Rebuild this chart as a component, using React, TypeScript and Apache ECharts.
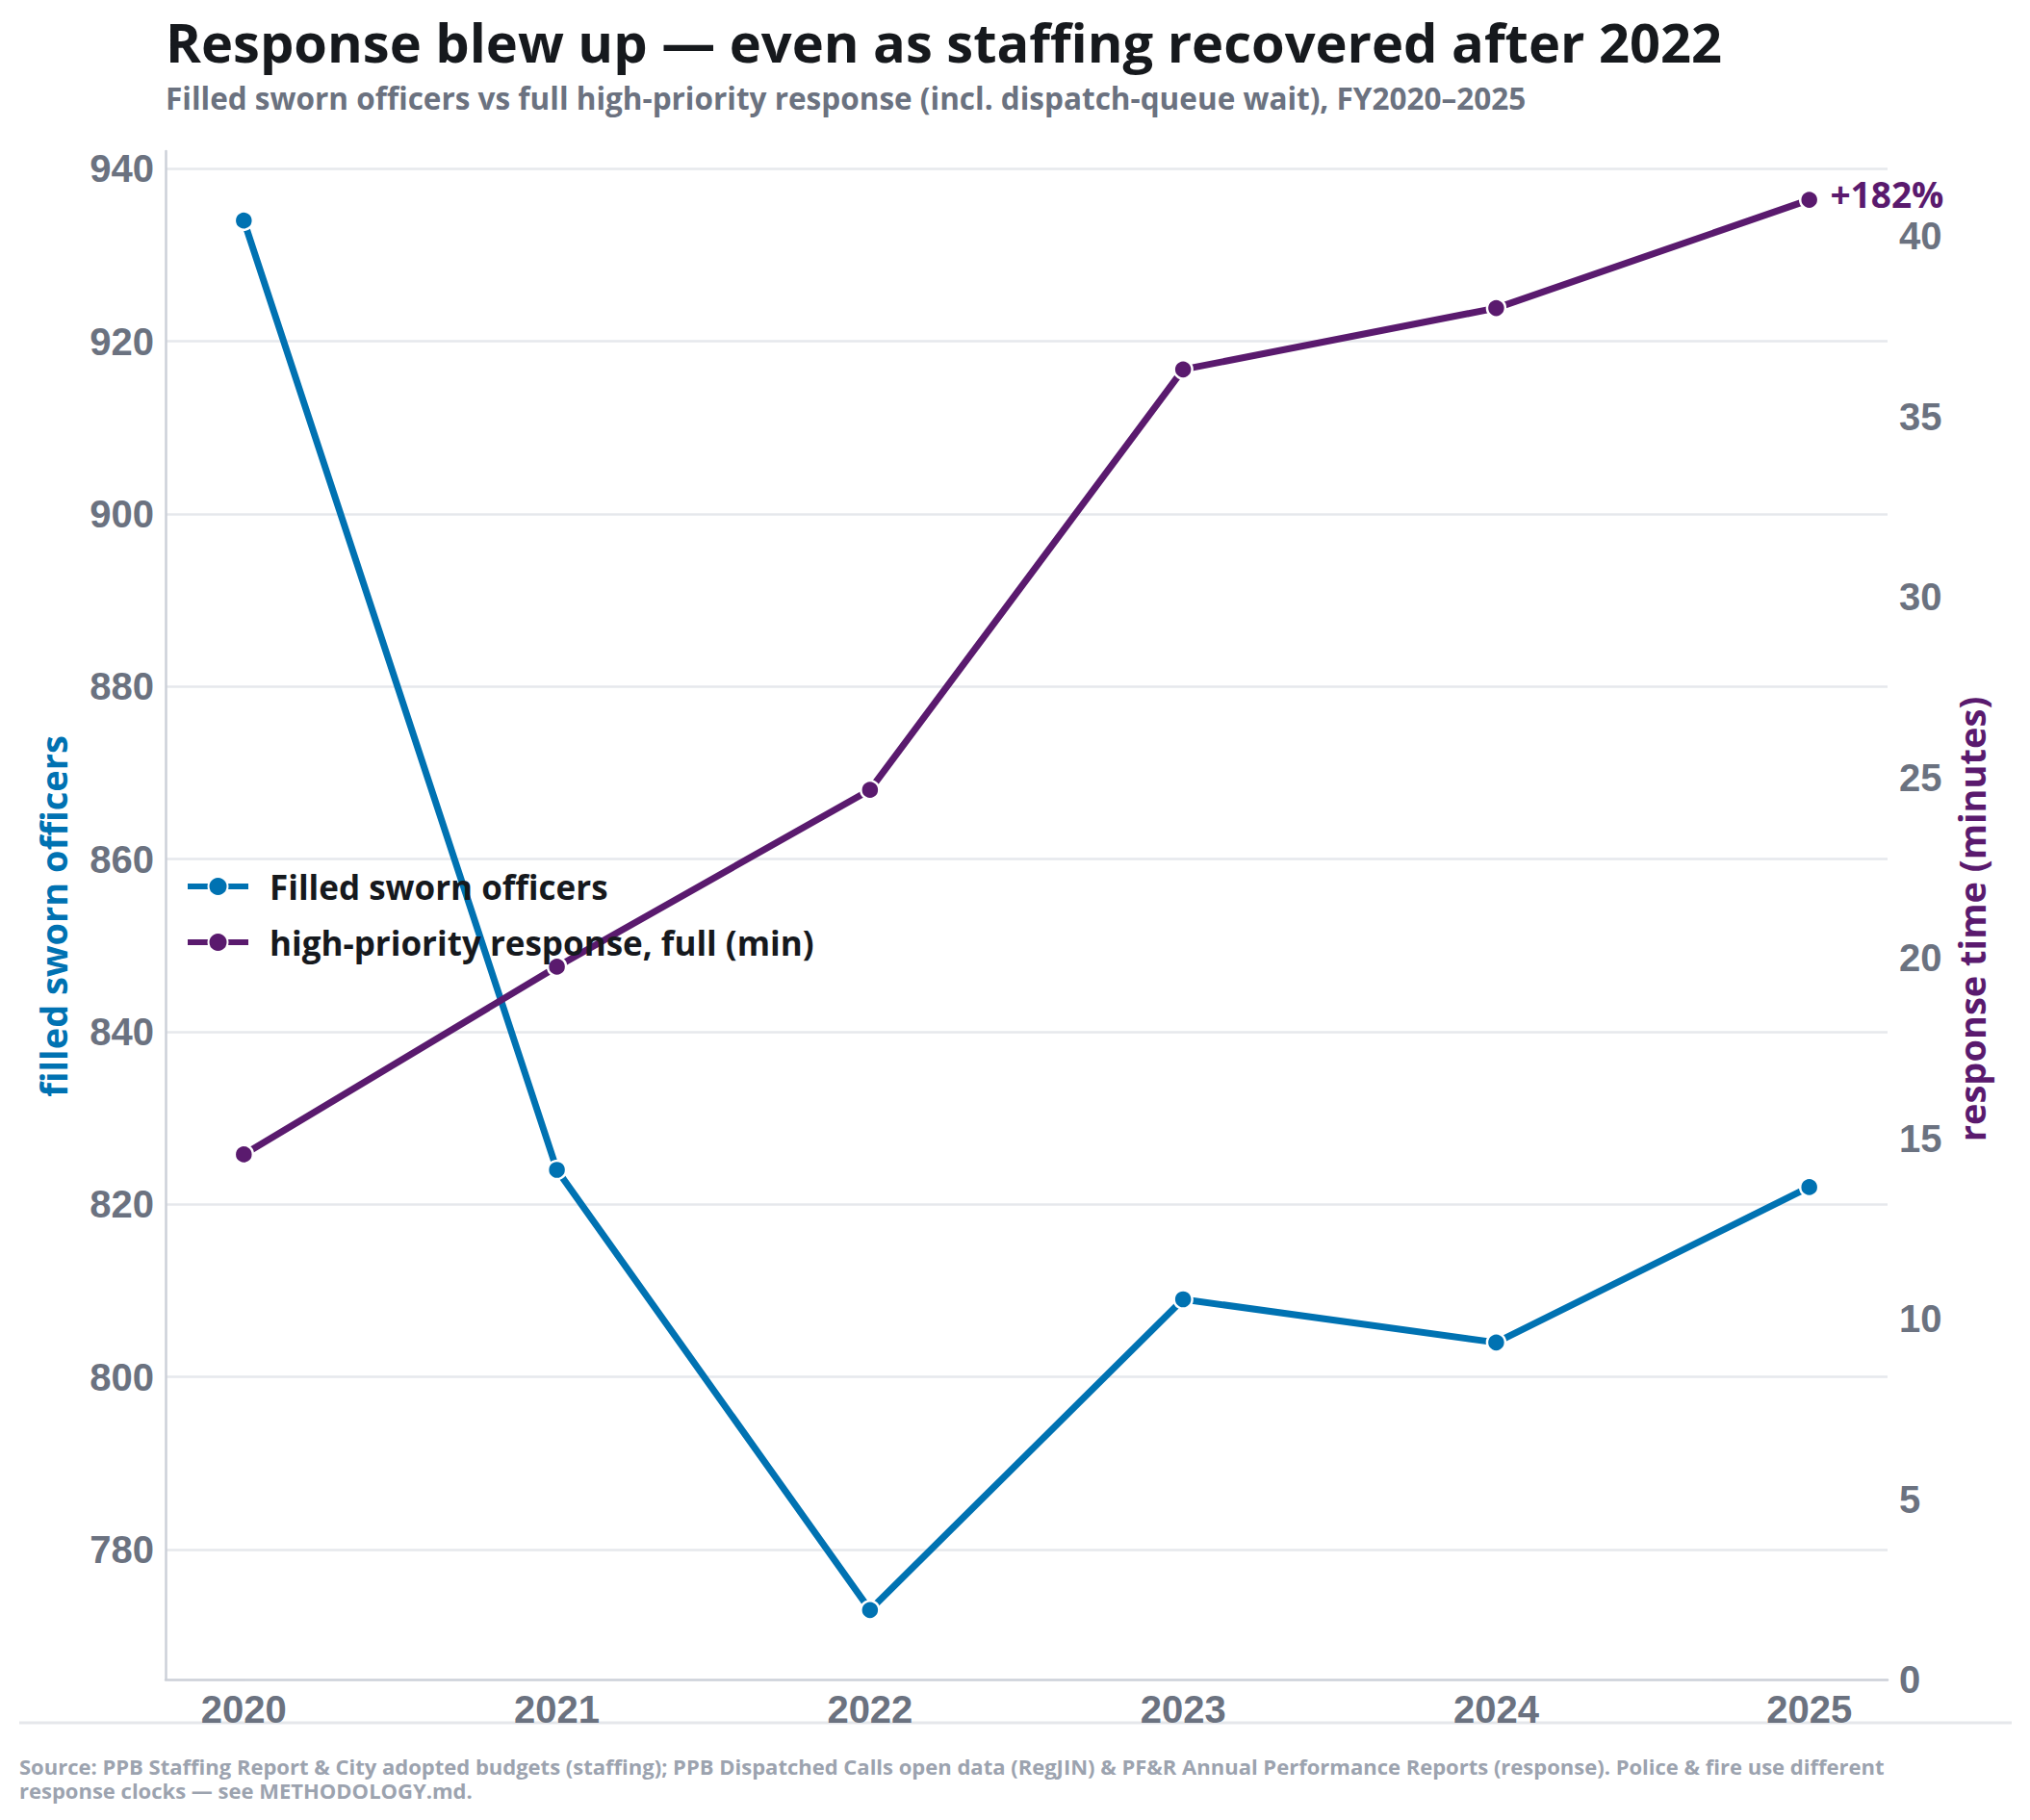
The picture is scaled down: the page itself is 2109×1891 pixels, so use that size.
import React, { useEffect, useRef } from "react";
import * as echarts from "echarts";

const years = [2020, 2021, 2022, 2023, 2024, 2025];
const officers = [934, 824, 773, 809, 804, 822];
const responseMinutes = [14.55, 19.75, 24.65, 36.3, 38.0, 41.0];
const changeLabel = "+182%";

const titleText = "Response blew up — even as staffing recovered after 2022";
const subtitleText =
  "Filled sworn officers vs full high-priority response (incl. dispatch-queue wait), FY2020–2025";
const sourceLines = [
  "Source: PPB Staffing Report & City adopted budgets (staffing); PPB Dispatched Calls open data (RegJIN) & PF&R Annual Performance Reports (response). Police & fire use different",
  "response clocks — see METHODOLOGY.md.",
];
const seriesNames = ["Filled sworn officers", "high-priority response, full (min)"];
const leftAxisName = "filled sworn officers";
const rightAxisName = "response time (minutes)";

const BLUE = "#0072b2";
const PURPLE = "#5a1a6e";
const TICK = "#6b7280";
const DARK = "#16191d";
const FONT = "'Open Sans', Lato, 'Noto Sans', sans-serif";
const NUMFONT = "'Liberation Sans', Arial, sans-serif";

export default function App() {
  const ref = useRef<HTMLDivElement>(null);
  useEffect(() => {
    document.body.style.margin = "0";
    if (!ref.current) return;
    const chart = echarts.init(ref.current, null, { renderer: "svg" });
    const tickLabel = {
      color: TICK,
      fontFamily: NUMFONT,
      fontWeight: "bold" as const,
      fontSize: 40,
      margin: 12,
    };
    const option: any = {
      animation: false,
      backgroundColor: "#ffffff",
      grid: { left: 172, right: 148, top: 157, bottom: 146, containLabel: false },
      xAxis: {
        type: "value",
        min: 2019.75,
        max: 2025.25,
        axisLine: { show: true, onZero: false, lineStyle: { color: "#ccd0d8", width: 2.5 } },
        axisTick: { show: false },
        splitLine: { show: false },
        axisLabel: {
          ...tickLabel,
          margin: 11,
          customValues: years,
          formatter: (v: number) => String(v),
        },
      },
      yAxis: [
        {
          type: "value",
          position: "left",
          min: 764.95,
          max: 942.05,
          splitNumber: 9,
          axisLine: { show: true, onZero: false, lineStyle: { color: "#ccd0d8", width: 2.5 } },
          axisTick: { show: false },
          axisLabel: { ...tickLabel, showMinLabel: false, showMaxLabel: false },
          splitLine: {
            show: true,
            showMinLine: false,
            showMaxLine: false,
            lineStyle: { color: "#e6e8ec", width: 2.5 },
          },
        },
        {
          type: "value",
          position: "right",
          min: 0,
          max: 42.35,
          interval: 5,
          axisLine: { show: false, onZero: false },
          axisTick: { show: false },
          splitLine: { show: false },
          axisLabel: { ...tickLabel, showMaxLabel: false },
        },
      ],
      legend: {
        left: 192,
        top: 900,
        padding: 0,
        orient: "vertical",
        itemWidth: 63,
        itemHeight: 25,
        itemGap: 16,
        data: seriesNames,
        lineStyle: { width: 6 },
        textStyle: {
          fontFamily: FONT,
          fontWeight: "bold",
          fontSize: 35,
          lineHeight: 42,
          color: DARK,
          padding: [0, 0, 0, 17],
        },
      },
      series: [
        {
          type: "line",
          name: seriesNames[0],
          yAxisIndex: 0,
          data: years.map((y, i) => [y, officers[i]]),
          symbol: "circle",
          symbolSize: 19,
          lineStyle: { color: BLUE, width: 7 },
          itemStyle: { color: BLUE, borderColor: "#ffffff", borderWidth: 2.5 },
          z: 2,
        },
        {
          type: "line",
          name: seriesNames[1],
          yAxisIndex: 1,
          data: years.map((y, i) =>
            i === years.length - 1
              ? {
                  value: [y, responseMinutes[i]],
                  label: {
                    show: true,
                    position: "right",
                    distance: 11,
                    offset: [0, -6],
                    formatter: changeLabel,
                    fontFamily: FONT,
                    fontWeight: "bold",
                    fontSize: 37,
                    lineHeight: 36,
                    color: PURPLE,
                  },
                }
              : [y, responseMinutes[i]]
          ),
          symbol: "circle",
          symbolSize: 19,
          lineStyle: { color: PURPLE, width: 7 },
          itemStyle: { color: PURPLE, borderColor: "#ffffff", borderWidth: 2.5 },
          z: 3,
        },
      ],
      graphic: [
        {
          type: "text",
          x: 172,
          y: 43,
          style: {
            text: titleText,
            font: `bold 56px ${FONT}`,
            lineHeight: 56,
            fill: DARK,
            verticalAlign: "middle",
          },
        },
        {
          type: "text",
          x: 172,
          y: 101,
          style: {
            text: subtitleText,
            font: `bold 31.5px ${FONT}`,
            lineHeight: 32,
            fill: TICK,
            verticalAlign: "middle",
          },
        },
        {
          type: "text",
          x: 55,
          y: 952,
          rotation: Math.PI / 2,
          style: {
            text: leftAxisName,
            font: `bold 38px ${FONT}`,
            fill: BLUE,
            align: "center",
            verticalAlign: "middle",
          },
        },
        {
          type: "text",
          x: 2048,
          y: 955,
          rotation: Math.PI / 2,
          style: {
            text: rightAxisName,
            font: `bold 38px ${FONT}`,
            fill: PURPLE,
            align: "center",
            verticalAlign: "middle",
          },
        },
        {
          type: "line",
          shape: { x1: 20, y1: 1790, x2: 2090, y2: 1790 },
          style: { stroke: "#e5e7eb", lineWidth: 3 },
        },
        {
          type: "text",
          x: 20,
          y: 1823,
          style: {
            text: sourceLines.join("\n"),
            font: `bold 22px ${FONT}`,
            lineHeight: 24.5,
            fill: "#9ca3af",
            verticalAlign: "top",
          },
        },
      ],
    };
    chart.setOption(option);
    return () => chart.dispose();
  }, []);
  return <div ref={ref} style={{ width: 2109, height: 1891 }} />;
}
